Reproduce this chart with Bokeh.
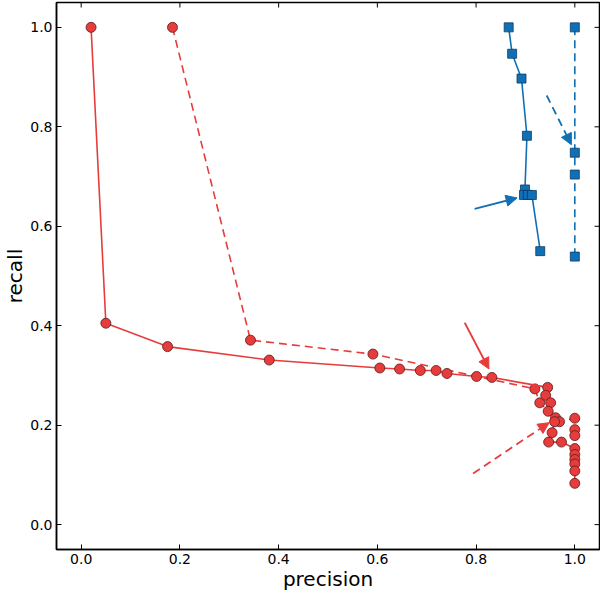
import math
from bokeh.plotting import figure
from bokeh.models import (Range1d, FixedTicker, Arrow, NormalHead,
                          ColumnDataSource, PrintfTickFormatter)
from bokeh.embed import file_html
from bokeh.resources import INLINE

# ---- data ----
red_solid_x = [0.02, 0.05, 0.175, 0.381, 0.605, 0.645, 0.687, 0.719, 0.741, 0.801, 0.832,
               0.945, 0.941, 0.951, 0.946, 0.959, 0.954, 0.947, 0.973,
               1.0, 1.0, 1.0, 1.0, 1.0, 1.0]
red_solid_y = [1.0, 0.405, 0.358, 0.331, 0.315, 0.313, 0.310, 0.310, 0.304, 0.298, 0.296,
               0.276, 0.260, 0.245, 0.228, 0.207, 0.185, 0.166, 0.166,
               0.153, 0.141, 0.131, 0.122, 0.108, 0.083]

red_dash_x = [0.185, 0.343, 0.591, 0.919, 0.929, 0.961, 0.969, 1.0, 1.0, 1.0]
red_dash_y = [1.0, 0.371, 0.343, 0.273, 0.245, 0.215, 0.207, 0.214, 0.191, 0.179]

blue_solid_x = [0.866, 0.873, 0.892, 0.903, 0.899, 0.897, 0.905, 0.913, 0.930]
blue_solid_y = [1.0, 0.947, 0.897, 0.782, 0.674, 0.663, 0.663, 0.663, 0.550]

blue_dash_x = [1.0, 1.0, 1.0, 1.0]
blue_dash_y = [1.0, 0.748, 0.704, 0.539]

# arrows: start -> end (data coordinates)
arrow_red_solid = dict(x0=[0.777], y0=[0.406], x1=[0.826], y1=[0.313])
arrow_red_dash = dict(x0=[0.794], y0=[0.103], x1=[0.948], y1=[0.205])
arrow_blue_solid = dict(x0=[0.797], y0=[0.635], x1=[0.883], y1=[0.657])
arrow_blue_dash = dict(x0=[0.943], y0=[0.863], x1=[0.993], y1=[0.764])

ticks = [0.0, 0.2, 0.4, 0.6, 0.8, 1.0]
lo, hi = -0.05, 1.05

RED = "#e63c3c"
RED_EDGE = "#5a1a1a"
BLUE = "#1170b5"
BLUE_EDGE = "#0b3c66"
FONT = "DejaVu Sans"

p = figure(width=600, height=593, output_backend="svg", toolbar_location=None,
           x_range=Range1d(lo, hi), y_range=Range1d(lo, hi),
           min_border_left=0, min_border_right=1, min_border_top=2, min_border_bottom=0)
p.xgrid.visible = False
p.ygrid.visible = False
p.outline_line_color = "black"
p.outline_line_width = 1.5
p.background_fill_color = "white"

for ax in (p.xaxis[0], p.yaxis[0]):
    ax.ticker = FixedTicker(ticks=ticks)
    ax.formatter = PrintfTickFormatter(format="%.1f")
    ax.major_tick_in = 5
    ax.major_tick_out = 0
    ax.minor_tick_line_color = None
    ax.axis_line_width = 1.5
    ax.major_label_text_font = FONT
    ax.major_label_text_font_size = "14px"
    ax.major_label_text_color = "black"
    ax.axis_label_text_font = FONT
    ax.axis_label_text_font_size = "20px"
    ax.axis_label_text_font_style = "normal"
    ax.axis_label_text_color = "black"
    ax.axis_label_standoff = 0
p.xaxis[0].major_label_standoff = 4
p.yaxis[0].major_label_standoff = 4
p.xaxis[0].axis_label = "precision"
p.yaxis[0].axis_label = "recall"

# inward ticks on the top and right edges of the frame
p.ray(x=ticks, y=[hi] * len(ticks), length=5, length_units="screen",
      angle=-math.pi / 2, line_color="black", line_width=1)
p.ray(x=[hi] * len(ticks), y=ticks, length=5, length_units="screen",
      angle=math.pi, line_color="black", line_width=1)

# red dashed series
p.line(red_dash_x, red_dash_y, line_color=RED, line_width=1.6, line_dash="8 5")
p.scatter(red_dash_x, red_dash_y, marker="circle", size=10, fill_color=RED,
          line_color=RED_EDGE, line_width=0.8)
# red solid series
p.line(red_solid_x, red_solid_y, line_color=RED, line_width=1.6)
p.scatter(red_solid_x, red_solid_y, marker="circle", size=10, fill_color=RED,
          line_color=RED_EDGE, line_width=0.8)
# blue solid
p.line(blue_solid_x, blue_solid_y, line_color=BLUE, line_width=1.6)
p.scatter(blue_solid_x, blue_solid_y, marker="square", size=9, fill_color=BLUE,
          line_color=BLUE_EDGE, line_width=0.8)
# blue dashed
p.line(blue_dash_x, blue_dash_y, line_color=BLUE, line_width=1.6, line_dash="8 5")
p.scatter(blue_dash_x, blue_dash_y, marker="square", size=9, fill_color=BLUE,
          line_color=BLUE_EDGE, line_width=0.8)

def add_arrow(d, color, dash):
    src = ColumnDataSource(d)
    head = NormalHead(size=11, fill_color=color, line_color=color, line_width=1)
    kw = dict(line_dash="8 5") if dash else {}
    p.add_layout(Arrow(end=head, source=src, x_start="x0", y_start="y0",
                       x_end="x1", y_end="y1", line_color=color, line_width=1.8, **kw))

add_arrow(arrow_red_solid, RED, False)
add_arrow(arrow_red_dash, RED, True)
add_arrow(arrow_blue_solid, BLUE, False)
add_arrow(arrow_blue_dash, BLUE, True)

open("out.html", "w").write(file_html(p, INLINE))
